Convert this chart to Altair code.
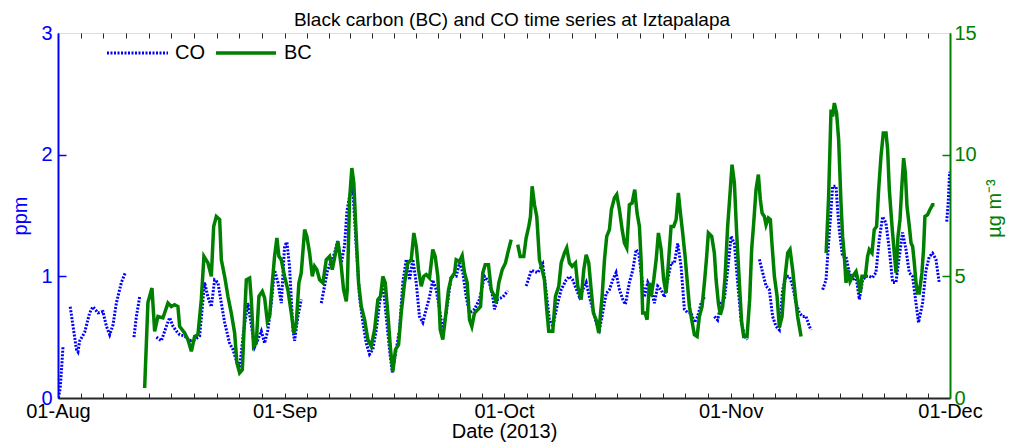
import altair as alt
import pandas as pd

# ---------------- data (day offset from 01-Aug-2013, value) ----------------
co_day_segs = [
    [0.05, 0.30, 0.50, 0.68],
    [1.67, 2.52, 2.73, 2.97, 3.65, 4.33, 4.78, 5.47, 6.15, 6.62, 7.07, 7.52, 7.98, 8.67, 9.21],
    [10.39, 10.72, 11.17],
    [13.45, 14.14, 14.82, 15.27, 15.72, 16.19, 16.64, 17.32, 18.00, 18.69,
     19.37, 20.05, 20.51, 20.97, 21.42, 21.87, 22.34, 22.79, 23.47, 23.92,
     24.43, 24.84, 25.39, 25.97, 26.44, 26.89, 27.34, 27.81, 28.26, 28.71,
     29.17, 29.62, 30.08, 30.54, 30.99, 31.31, 31.67, 32.13, 32.36, 32.81, 33.27],
    [36.01, 36.87, 37.83, 38.24, 38.74, 39.19, 39.51, 39.88, 40.33, 40.79,
     41.24, 41.70, 42.16, 42.61, 43.06, 43.53, 43.98, 44.43, 44.89, 45.34,
     45.71, 46.26, 46.71, 47.16, 47.63, 48.08, 48.53, 48.99, 49.44, 49.90,
     50.36, 50.81, 51.26, 51.73, 52.18, 52.63, 53.10, 53.78, 54.46, 54.91,
     55.37, 55.83, 56.28, 56.96, 57.65, 58.33, 59.00, 59.47, 59.70, 60.15, 60.83, 61.52],
    [64.03, 64.48, 64.72, 65.62, 66.30, 66.81, 67.22, 67.67, 68.35, 68.82,
     69.50, 69.95, 70.40, 71.32, 72.24, 72.69, 73.14, 73.60, 74.05, 74.50,
     74.97, 75.42, 75.87, 76.33, 76.79, 77.24, 77.61, 78.15, 78.61, 79.07,
     79.43, 79.75, 80.20, 80.66, 81.12, 81.57, 82.02, 82.49, 82.94, 83.39,
     83.85, 84.30, 84.76, 85.22, 85.67, 86.12, 86.59, 87.04, 87.49, 87.96, 88.41],
    [89.77, 90.22, 90.69, 91.14, 91.59, 92.06, 92.51, 92.96, 93.42, 93.88, 94.29],
    [95.93, 96.38, 96.84, 97.29, 97.74, 98.20, 98.66, 99.11, 99.58, 100.03,
     100.48, 100.94, 101.39, 101.85, 102.31, 102.76, 102.99],
    [104.58, 105.04, 105.26, 105.73, 105.95, 106.41, 106.63, 106.86, 107.31, 107.78,
     108.23, 108.68, 109.15, 109.60, 110.05, 110.51, 110.96, 111.41, 111.87, 112.32,
     112.78, 113.24, 113.70, 114.15, 114.61, 115.06, 115.51, 115.98, 116.43, 116.88,
     117.35, 117.70, 118.25, 118.71, 119.16, 119.61, 120.07, 120.52],
    [121.55, 121.75, 121.95],
]
co_val_segs = [
    [0.00, 0.08, 0.25, 0.42],
    [0.75, 0.40, 0.38, 0.47, 0.54, 0.70, 0.75, 0.70, 0.71, 0.59, 0.52, 0.60, 0.78, 0.95, 1.03],
    [0.50, 0.67, 0.83],
    [0.50, 0.47, 0.59, 0.66, 0.59, 0.55, 0.52, 0.51, 0.47, 0.48,
     0.51, 0.95, 0.83, 0.75, 0.97, 0.95, 0.78, 0.62, 0.45, 0.40,
     0.30, 0.25, 0.55, 0.78, 0.60, 0.42, 0.48, 0.55, 0.45, 0.56,
     0.78, 1.05, 0.95, 0.78, 1.25, 1.28, 1.08, 0.56, 0.47, 0.67, 0.81],
    [0.78, 1.05, 1.19, 1.29, 1.11, 1.25, 1.53, 1.66, 1.71, 1.25,
     0.83, 0.62, 0.45, 0.36, 0.40, 0.56, 0.78, 0.95, 0.67, 0.40,
     0.21, 0.40, 0.56, 0.95, 1.14, 0.97, 1.14, 0.95, 0.67, 0.62,
     0.73, 0.83, 0.97, 0.89, 0.73, 0.56, 0.70, 1.00, 1.00, 1.11,
     1.03, 0.83, 0.70, 0.73, 0.81, 1.00, 0.95, 0.83, 0.73, 0.81, 0.83, 0.88],
    [0.92, 1.00, 1.05, 1.03, 1.10, 0.85, 0.64, 0.59, 0.78, 0.89,
     0.97, 1.00, 0.97, 0.83, 0.95, 0.83, 0.73, 0.62, 0.56, 0.70,
     0.86, 0.89, 0.97, 1.03, 0.89, 0.81, 0.77, 0.95, 1.05, 1.22,
     1.19, 1.03, 0.83, 0.95, 0.89, 0.78, 0.92, 0.89, 0.83, 0.97,
     1.11, 1.11, 1.27, 1.08, 0.73, 0.70, 0.70, 0.62, 0.67, 0.78, 0.83],
    [0.67, 0.64, 0.78, 0.81, 1.05, 1.33, 1.27, 0.95, 0.64, 0.51, 0.48],
    [1.14, 1.03, 0.92, 0.89, 0.67, 0.59, 0.56, 0.89, 1.00, 1.00,
     0.92, 0.78, 0.70, 0.67, 0.67, 0.59, 0.56],
    [0.89, 0.97, 1.16, 1.55, 1.74, 1.74, 1.55, 1.38, 1.16, 1.16,
     1.03, 0.97, 1.00, 0.81, 0.97, 1.00, 1.00, 0.99, 1.03, 1.30,
     1.49, 1.44, 1.22, 0.95, 0.95, 1.16, 1.36, 1.22, 1.03, 1.00,
     0.78, 0.62, 0.78, 1.05, 1.16, 1.19, 1.14, 0.95],
    [1.45, 1.60, 1.86],
]

bc_day_segs = [
    [11.85, 12.30, 12.85, 13.22, 13.67, 14.35, 15.04, 15.50, 15.95, 16.40,
     16.64, 17.32, 17.77, 18.24, 18.69, 19.14, 19.60, 19.96, 20.51, 20.97,
     21.29, 21.65, 22.11, 22.34, 22.79, 23.24, 23.70, 24.16, 24.47, 24.84,
     25.21, 25.52, 25.76, 26.21, 26.44, 26.75, 27.12, 27.48, 27.94, 28.26,
     28.63, 28.94, 29.31, 29.62, 29.94, 30.21, 30.54, 30.99, 31.44, 31.91,
     32.26, 32.59, 32.95, 33.27, 33.73, 34.04, 34.41, 34.78, 35.09, 35.41,
     35.78, 36.23, 36.69, 37.14, 37.51, 37.96, 38.28, 38.74, 39.06, 39.43,
     39.56, 39.88, 40.19, 40.46, 40.79, 41.11, 41.48, 41.93, 42.38, 42.84,
     43.30, 43.75, 44.11, 44.43, 44.76, 45.11, 45.48, 45.80, 46.16, 46.58,
     46.94, 47.40, 47.85, 48.31, 48.67, 49.00, 49.31, 49.68, 50.03, 50.36,
     50.81, 51.26, 51.59, 51.95, 52.28, 52.63, 53.00, 53.41, 53.78, 54.23,
     54.46, 54.91, 55.28, 55.60, 55.97, 56.28, 56.60, 56.96, 57.42, 57.79,
     58.10, 58.43, 58.88, 59.25, 59.70, 59.93, 60.29, 60.75, 61.20, 61.52, 61.98],
    [62.88, 63.21, 63.70, 64.03, 64.39, 64.62, 64.85, 65.17, 65.48, 65.85,
     66.22, 66.53, 66.85, 67.12, 67.67, 68.04, 68.49, 68.82, 69.27, 69.58,
     69.95, 70.32, 70.77, 71.09, 71.55, 71.91, 72.24, 72.59, 72.92, 73.23,
     73.60, 73.96, 74.42, 74.74, 75.05, 75.42, 75.69, 76.10, 76.42, 76.79,
     77.16, 77.47, 77.79, 78.15, 78.52, 78.88, 79.20, 79.52, 79.75, 79.97,
     80.30, 80.57, 80.89, 81.12, 81.48, 81.81, 82.12, 82.49, 82.84, 83.17,
     83.49, 83.85, 84.21, 84.54, 84.85, 85.13, 85.44, 85.77, 86.04, 86.36,
     86.67, 87.04, 87.41, 87.72, 88.09, 88.41, 88.72, 88.95, 89.41, 89.77,
     90.01, 90.32, 90.59, 90.91, 91.24, 91.59, 91.92, 92.19, 92.51, 92.82,
     93.19, 93.51, 93.78, 94.24, 94.60, 94.87, 95.15, 95.47, 95.79, 96.06,
     96.30, 96.61, 96.84, 97.16, 97.43, 97.61, 97.98, 98.35, 98.66, 99.03,
     99.35, 99.80, 100.12, 100.48, 100.85, 101.16, 101.63],
    [105.06, 105.40, 105.73, 105.95, 106.18, 106.49, 106.77, 107.09, 107.31, 107.55,
     107.78, 108.00, 108.33, 108.68, 109.15, 109.50, 109.73, 109.96, 110.42, 110.73,
     110.96, 111.33, 111.64, 111.96, 112.24, 112.56, 112.88, 113.25, 113.47, 113.70,
     114.07, 114.38, 114.62, 114.89, 115.16, 115.44, 115.66, 115.89, 116.12, 116.44,
     116.67, 116.89, 117.12, 117.35, 117.57, 117.80, 118.16, 118.38, 118.57, 118.93,
     119.25, 119.61, 119.88],
]
bc_val_segs = [
    [0.41, 3.92, 4.52, 2.74, 3.35, 3.29, 3.90, 3.76, 3.83, 3.76,
     2.94, 2.67, 2.40, 1.92, 2.53, 2.60, 4.04, 5.82, 5.55, 5.00,
     7.05, 7.46, 7.33, 5.68, 5.00, 4.18, 3.49, 2.67, 1.44, 1.03,
     1.16, 3.35, 4.86, 4.93, 4.04, 2.12, 2.26, 4.18, 4.38, 4.11,
     3.15, 3.35, 4.73, 5.82, 6.58, 5.82, 5.68, 5.00, 4.45, 3.49,
     2.67, 3.08, 4.73, 5.14, 6.92, 6.64, 5.96, 5.00, 5.41, 5.27,
     4.86, 4.73, 5.68, 5.82, 5.27, 5.96, 6.44, 5.41, 4.45, 3.97,
     4.45, 8.15, 9.45, 8.84, 6.64, 4.73, 3.76, 3.22, 2.40, 2.12,
     2.81, 4.04, 4.18, 5.00, 4.73, 3.49, 1.99, 1.09, 1.99, 2.19,
     3.49, 4.73, 5.55, 5.68, 6.78, 6.23, 5.27, 4.59, 5.00, 5.07,
     4.93, 6.10, 5.82, 5.00, 2.81, 2.40, 3.35, 4.45, 4.93, 5.14,
     5.68, 5.61, 5.85, 5.14, 4.73, 3.22, 2.94, 3.49, 3.63, 3.76,
     5.14, 5.48, 5.48, 4.45, 4.18, 3.90, 4.73, 5.27, 5.55, 5.96, 6.51],
    [6.30, 5.82, 5.82, 6.58, 7.05, 7.46, 8.70, 7.94, 7.46, 5.68,
     5.27, 4.86, 3.63, 2.74, 2.74, 4.18, 4.59, 5.55, 5.96, 6.17,
     5.55, 5.41, 5.55, 4.59, 4.04, 5.27, 5.89, 5.55, 4.45, 3.49,
     3.22, 2.67, 4.18, 5.68, 6.64, 6.92, 7.74, 8.22, 8.36, 7.74,
     6.92, 6.37, 6.17, 7.94, 8.01, 8.56, 7.60, 7.05, 5.68, 3.49,
     3.49, 3.22, 4.73, 4.18, 4.86, 5.68, 6.78, 6.10, 4.86, 4.32,
     5.55, 7.05, 7.05, 7.33, 8.43, 7.60, 6.78, 5.82, 4.86, 3.76,
     3.22, 2.60, 2.53, 3.35, 3.76, 4.73, 5.82, 6.78, 6.64, 5.96,
     4.86, 3.90, 3.42, 3.76, 5.00, 7.05, 8.43, 9.59, 8.84, 6.78,
     4.73, 3.08, 2.53, 2.53, 4.04, 6.10, 7.19, 8.56, 9.18, 8.15,
     7.60, 7.46, 7.12, 7.40, 7.33, 6.51, 5.00, 4.18, 2.90, 3.35,
     4.73, 5.96, 6.10, 5.27, 4.18, 3.35, 2.53],
    [5.96, 8.29, 11.85, 11.57, 12.12, 11.71, 10.62, 8.01, 6.64, 5.82,
     4.73, 5.27, 4.79, 5.00, 5.20, 4.73, 4.32, 5.00, 5.00, 5.82,
     6.10, 5.96, 6.92, 7.05, 8.56, 9.93, 10.89, 10.89, 10.21, 8.56,
     7.05, 5.96, 5.14, 6.64, 7.33, 8.84, 9.86, 9.25, 7.87, 7.05,
     6.37, 6.23, 5.55, 4.73, 4.32, 4.32, 5.14, 6.10, 7.46, 7.53,
     7.74, 7.94, 7.94],
]

legend_labels = ["CO", "BC"]
co_ticks_vals = [0, 1, 2, 3]
bc_ticks_vals = [0, 5, 10, 15]
month_starts = ["2013-08-01", "2013-09-01", "2013-10-01", "2013-11-01", "2013-12-01"]

START = pd.Timestamp("2013-08-01")


def build(day_segs, val_segs):
    rows = []
    for i, (ds, vs) in enumerate(zip(day_segs, val_segs)):
        for d, v in zip(ds, vs):
            rows.append({"date": START + pd.Timedelta(days=d), "val": v, "seg": i})
    return pd.DataFrame(rows)


co_df = build(co_day_segs, co_val_segs)
bc_df = build(bc_day_segs, bc_val_segs)


def to_dt(t):
    return alt.DateTime(year=t.year, month=t.month, date=t.day,
                        hours=t.hour, minutes=t.minute, seconds=t.second)


ms = [pd.Timestamp(m) for m in month_starts]
month_dt = [to_dt(t) for t in ms]
minor = []
for a, b in zip(ms[:-1], ms[1:]):
    for k in range(10):
        minor.append(a + (b - a) * k / 10)
minor.append(ms[-1])
minor_dt = [to_dt(t) for t in minor]

# ---------------- style ----------------
W, H = 892, 365
FONT = "Liberation Sans"
BLUE = "#0000ff"
GREEN = "#008000"
DARK = "#262626"
FS = 20

x_scale = alt.Scale(domain=[month_dt[0], month_dt[-1]])
co_scale = alt.Scale(domain=[0, 3], nice=False)
bc_scale = alt.Scale(domain=[0, 15], nice=False)

co_line = alt.Chart(co_df).mark_line(
    color=BLUE, strokeWidth=3, strokeDash=[2, 1.5], clip=True
).encode(
    x=alt.X("date:T", scale=x_scale, axis=alt.Axis(
        orient="bottom", values=month_dt, format="%d-%b", tickSize=0,
        labelPadding=3, labelFontSize=FS, labelFont=FONT, labelColor="black",
        labelFlush=False, labelOverlap=False, labelBound=False,
        domainColor=DARK, domainWidth=2, grid=False,
        title="Date (2013)", titleFont=FONT, titleFontSize=FS,
        titleFontWeight="normal", titleColor="black",
        titleY=23, titleBaseline="top")),
    y=alt.Y("val:Q", scale=co_scale, axis=alt.Axis(
        orient="left", values=co_ticks_vals, tickSize=0, labelPadding=6,
        labelFontSize=FS, labelFont=FONT, labelColor=BLUE,
        domainColor=BLUE, domainWidth=2, grid=False,
        title="ppm", titleFont=FONT, titleFontSize=FS, titleFontWeight="normal",
        titleColor=BLUE, titleX=-38, titleY=H / 2, titleAngle=270,
        titleBaseline="middle", titleAlign="center")),
    detail="seg:N",
)

bc_line = alt.Chart(bc_df).mark_line(
    color=GREEN, strokeWidth=3.5, clip=True
).encode(
    x=alt.X("date:T", scale=x_scale, axis=None),
    y=alt.Y("val:Q", scale=bc_scale, axis=alt.Axis(
        orient="right", values=bc_ticks_vals, tickSize=0, labelPadding=4,
        labelFontSize=FS, labelFont=FONT, labelColor=GREEN,
        domainColor=GREEN, domainWidth=2, grid=False,
        title="µg m⁻³", titleFont=FONT, titleFontSize=FS, titleFontWeight="normal",
        titleColor=GREEN, titleX=44, titleY=175, titleAngle=270,
        titleBaseline="middle", titleAlign="center")),
    detail="seg:N",
)

co_ticks = alt.Chart(co_df).mark_line(opacity=0).encode(
    x=alt.X("date:T", scale=x_scale, axis=alt.Axis(
        orient="bottom", values=minor_dt, labels=False, domain=False,
        tickSize=5, offset=-5, tickColor=DARK, tickWidth=1, title=None, grid=False)),
    y=alt.Y("val:Q", scale=co_scale, axis=alt.Axis(
        orient="left", values=[1, 2], labels=False, domain=False,
        tickSize=8, offset=-8, tickColor=BLUE, tickWidth=1.5, title=None, grid=False)),
    detail="seg:N",
)

bc_ticks = alt.Chart(bc_df).mark_line(opacity=0).encode(
    x=alt.X("date:T", scale=x_scale, axis=alt.Axis(
        orient="top", values=minor_dt, labels=False, domain=False,
        tickSize=5, offset=-5, tickColor=DARK, tickWidth=1, title=None, grid=False)),
    y=alt.Y("val:Q", scale=bc_scale, axis=alt.Axis(
        orient="right", values=[5, 10], labels=False, domain=False,
        tickSize=8, offset=-8, tickColor=GREEN, tickWidth=1.5, title=None, grid=False)),
    detail="seg:N",
)

# legend (inside the plot, top-left)
co_key = alt.Chart(pd.DataFrame({"label": [legend_labels[0]]})).mark_rule(
    color=BLUE, strokeWidth=3, strokeDash=[2, 1.5]
).encode(x=alt.value(49), x2=alt.value(110), y=alt.value(20))
co_txt = alt.Chart(pd.DataFrame({"label": [legend_labels[0]]})).mark_text(
    align="left", baseline="middle", font=FONT, fontSize=FS, color="black"
).encode(x=alt.value(117), y=alt.value(20), text="label:N")
bc_key = alt.Chart(pd.DataFrame({"label": [legend_labels[1]]})).mark_rule(
    color=GREEN, strokeWidth=3.5
).encode(x=alt.value(158), x2=alt.value(218), y=alt.value(20))
bc_txt = alt.Chart(pd.DataFrame({"label": [legend_labels[1]]})).mark_text(
    align="left", baseline="middle", font=FONT, fontSize=FS, color="black"
).encode(x=alt.value(226), y=alt.value(20), text="label:N")

chart = alt.layer(
    co_ticks, bc_ticks, co_line, bc_line, co_key, co_txt, bc_key, bc_txt
).resolve_scale(
    y="independent"
).resolve_axis(
    x="independent", y="independent"
).properties(
    width=W, height=H,
    title=alt.TitleParams(
        "Black carbon (BC) and CO time series at Iztapalapa",
        font=FONT, fontSize=19, fontWeight="normal", color="black",
        anchor="middle", dx=8, offset=-7),
    autosize=alt.AutoSizeParams(type="none"),
    padding={"left": 50, "top": 25, "right": 71, "bottom": 44},
).configure_view(
    stroke=DARK, strokeWidth=1.5
).configure(
    font=FONT
)

chart.save("out.html", embed_options={"renderer": "svg", "actions": False})
